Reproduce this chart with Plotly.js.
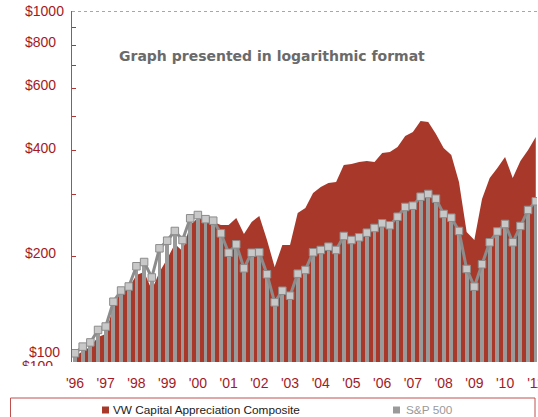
<!DOCTYPE html>
<html><head><meta charset="utf-8">
<script src="https://cdn.plot.ly/plotly-3.0.1.min.js"></script>
<style>html,body{margin:0;padding:0;background:#fff}#chart{width:538px;height:417px}</style>
</head><body><div id="chart"></div>
<script>
// Quarterly observation dates (decimal years)
const quarters = [1996,1996.25,1996.5,1996.75,1997,1997.25,1997.5,1997.75,1998,1998.25,1998.5,1998.75,
  1999,1999.25,1999.5,1999.75,2000,2000.25,2000.5,2000.75,2001,2001.25,2001.5,2001.75,
  2002,2002.25,2002.5,2002.75,2003,2003.25,2003.5,2003.75,2004,2004.25,2004.5,2004.75,
  2005,2005.25,2005.5,2005.75,2006,2006.25,2006.5,2006.75,2007,2007.25,2007.5,2007.75,
  2008,2008.25,2008.5,2008.75,2009,2009.25,2009.5,2009.75,2010,2010.25,2010.5,2010.75,2011];

// Growth of $100 - VW Capital Appreciation Composite
const vwComposite = [104.0,107.5,110.6,117.8,120.2,144.4,159.3,162.5,177.0,180.5,
  160.4,180.5,196.6,216.9,207.2,245.7,257.2,253.9,250.6,245.7,
  245.7,257.2,231.6,250.6,260.6,222.6,186.5,215.4,215.4,265.8,
  274.7,303.0,315.2,323.6,325.7,364.1,366.5,371.3,373.8,371.3,
  393.9,396.5,409.7,440.5,452.2,486.0,482.8,446.3,407.1,388.8,
  325.7,234.6,222.6,291.3,334.4,357.0,383.8,334.4,373.8,401.7,437.6];

// Growth of $100 - S&P 500
const sp500 = [105.9,110.6,113.7,123.4,126.2,148.5,159.8,164.1,187.4,192.7,
  174.1,210.8,221.6,236.2,222.6,256.7,262.3,255.2,252.7,232.6,
  204.8,216.4,184.9,204.8,205.4,177.8,147.9,159.6,154.5,178.5,
  182.9,205.4,208.5,213.1,208.5,228.6,222.6,226.6,233.6,240.9,
  248.4,245.2,259.4,276.5,278.8,295.8,301.1,291.9,264.1,257.7,
  236.2,184.1,163.9,189.9,219.3,235.4,247.3,219.3,244.1,271.1,287.0];

const yearTicks = [1996,1997,1998,1999,2000,2001,2002,2003,2004,2005,2006,2007,2008,2009,2010,2011];
const yearLabels = ["'96","'97","'98","'99","'00","'01","'02","'03","'04","'05","'06","'07","'08","'09","'10","'11"];
const yTickVals = [100,200,300,400,500,600,700,800,900,1000];
const yLabelVals = [200,400,600,800,1000];
const yLabelText = ['$200','$400','$600','$800','$1000'];
const bottomLabel = '$100';
const seriesNames = ['VW Capital Appreciation Composite','S&P 500'];
const chartTitle = 'Graph presented in logarithmic format';

// layout-only settings
const labelShift = [3,3,4,3,0];
const RED = '#a8392a', AXRED = '#a31a1f';
const LBLFONT = {family:'Liberation Sans', size:14, color:AXRED};
const W = 538, H = 417, ML = 72, MR = 1, MT = 11, MB = 55;
const PW = W - ML - MR, PH = H - MT - MB;
const px = x => (x - ML) / PW;
const py = y => (H - MB - y) / PH;

const traces = [
  {type:'scatter', mode:'lines', x:quarters, y:vwComposite, name:seriesNames[0],
   line:{width:0, color:RED}, fill:'tozeroy', fillcolor:RED, xaxis:'x', yaxis:'y',
   showlegend:false, hoverinfo:'skip'},
  {type:'bar', x:quarters, y:sp500, name:seriesNames[1], width:0.125,
   marker:{color:'#9a9a9a', line:{width:0}}, xaxis:'x2', yaxis:'y2', showlegend:false},
  {type:'scatter', mode:'lines+markers', x:quarters, y:sp500, name:seriesNames[1],
   line:{color:'#8c8c8c', width:3},
   marker:{symbol:'square', size:7.5, color:'#c8c8c8', line:{color:'#8c8c8c', width:1}},
   xaxis:'x2', yaxis:'y2', showlegend:false}
];

const xr = [1995.902, 2011.04];
const annotations = yLabelVals.map((v,i) => ({
  xref:'paper', yref:'y', x:px(23), y:Math.log10(v), xanchor:'left', yanchor:'middle',
  yshift:labelShift[i], text:yLabelText[i], showarrow:false, font:LBLFONT
}));
annotations.push({xref:'paper', yref:'paper', x:px(27), y:py(351.7), xanchor:'left', yanchor:'middle',
  text:bottomLabel, showarrow:false, font:LBLFONT});
annotations.push({xref:'paper', yref:'paper', x:px(21), y:py(357), xanchor:'left', yanchor:'top',
  height:8, valign:'top', borderpad:0,
  text:bottomLabel, showarrow:false, font:LBLFONT});
annotations.push({xref:'paper', yref:'paper', x:px(117), y:py(56), xanchor:'left', yanchor:'middle',
  text:'<b>'+chartTitle+'</b>', showarrow:false, font:{family:'DejaVu Sans', size:14, color:'#6a6a6a'}});
annotations.push({xref:'paper', yref:'paper', x:px(111), y:py(410), xanchor:'left', yanchor:'middle',
  text:seriesNames[0], showarrow:false, font:{family:'Liberation Sans', size:11.8, color:'#1a1a1a'}});
annotations.push({xref:'paper', yref:'paper', x:px(404), y:py(410), xanchor:'left', yanchor:'middle',
  text:seriesNames[1], showarrow:false, font:{family:'Liberation Sans', size:11.8, color:'#9a9a9a'}});

const shapes = [
  {type:'line', xref:'paper', x0:0, x1:1.01, yref:'y', y0:1000, y1:1000,
   line:{color:'#a82a2a', width:1, dash:'dot'}},
  {type:'rect', xref:'paper', yref:'paper', x0:px(10.5), x1:px(535), y0:py(398), y1:py(425),
   line:{color:'#c0504d', width:1}, fillcolor:'rgba(0,0,0,0)'},
  {type:'rect', xref:'paper', yref:'paper', x0:px(102), x1:px(109), y0:py(406.5), y1:py(413.5),
   line:{width:0}, fillcolor:RED},
  {type:'rect', xref:'paper', yref:'paper', x0:px(393), x1:px(400), y0:py(406.5), y1:py(413.5),
   line:{width:0}, fillcolor:'#9a9a9a'}
];

const layout = {
  width:W, height:H, margin:{l:ML, r:MR, t:MT, b:MB, pad:0},
  paper_bgcolor:'#fff', plot_bgcolor:'#fff', showlegend:false, bargap:0,
  font:{family:'Liberation Sans'},
  xaxis:{range:xr, tickmode:'array', tickvals:yearTicks, ticktext:yearLabels, ticks:'',
    showgrid:false, zeroline:false, showline:false, ticklabelstandoff:11,
    ticklabeloverflow:'allow', tickfont:LBLFONT, fixedrange:true},
  yaxis:{type:'log', range:[2,3], tickmode:'array', tickvals:yTickVals,
    ticktext:yTickVals.map(()=>''), ticks:'inside', ticklen:4, tickwidth:1, tickcolor:'#b03535',
    showline:true, linecolor:'#b84a4a', linewidth:1.3, showgrid:false, zeroline:false, fixedrange:true},
  xaxis2:{range:xr, overlaying:'x', visible:false, fixedrange:true},
  yaxis2:{type:'log', range:[2,3], overlaying:'y', visible:false, fixedrange:true},
  annotations:annotations, shapes:shapes
};

Plotly.newPlot('chart', traces, layout, {staticPlot:true, displayModeBar:false});
</script>
</body></html>
